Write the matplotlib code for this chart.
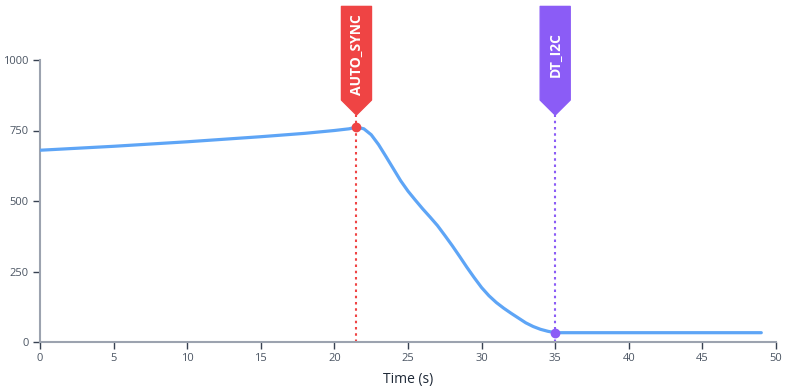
import numpy as np
import matplotlib
matplotlib.use('Agg')
import matplotlib.pyplot as plt
from matplotlib.patches import Polygon

plt.rcParams['font.family'] = ['Open Sans', 'DejaVu Sans']

# series
t = [0, 5, 10, 15, 18, 20, 21, 21.5, 22, 22.5, 23, 23.5, 24, 24.5, 25, 25.5, 26, 26.5,
     27, 27.5, 28, 28.5, 29, 29.5, 30, 30.5, 31, 31.5, 32, 32.5, 33, 33.5, 34, 34.5, 35,
     36, 38, 40, 42, 44, 46, 48, 49]
v = [680, 694, 710, 728, 740, 750, 756, 762, 756, 735, 700, 658, 615, 572, 535, 503, 472, 443,
     413, 378, 342, 304, 265, 228, 193, 164, 140, 120, 102, 85, 68, 55, 45, 38, 33,
     33, 33, 33, 33, 33, 33, 33, 33]

events = ['AUTO_SYNC', 'DT_I2C']
event_t = [21.5, 35]
event_v = [762, 33]
event_col = ['#ef4444', '#8b5cf6']

fig = plt.figure(figsize=(7.91, 3.89), dpi=100)
ax = fig.add_axes([40/791, 47/389, 736/791, 282/389])

ax.plot(t, v, color='#5ea5f6', lw=2.3, solid_capstyle='round', solid_joinstyle='round', zorder=3)

for name, x, y, c in zip(events, event_t, event_v, event_col):
    ax.plot([x, x], [0, 805], color=c, lw=1.5, ls=(0, (1.2, 1.8)), clip_on=False, zorder=2)
    ax.plot(x, y, 'o', color=c, ms=6, zorder=4)
    hw = 1.02
    flag = Polygon([[x - hw, 1190], [x + hw, 1190], [x + hw, 858], [x, 805], [x - hw, 858]],
                   closed=True, facecolor=c, edgecolor=c, lw=1, joinstyle='round',
                   clip_on=False, zorder=5)
    ax.add_patch(flag)
    ax.text(x, 1020, name, rotation=90, ha='center', va='center', color='white',
            fontsize=10, fontweight='bold', clip_on=False, zorder=6)

ax.set_xlim(0, 50)
ax.set_ylim(0, 1000)
ax.set_xticks(range(0, 51, 5))
ax.set_yticks([0, 250, 500, 750, 1000])
for s in ['top', 'right']:
    ax.spines[s].set_visible(False)
for s in ['left', 'bottom']:
    ax.spines[s].set_color('#9ca3af')
    ax.spines[s].set_linewidth(1.5)
ax.tick_params(axis='both', colors='#4b5563', labelsize=8, length=5, width=1, pad=3)
ax.tick_params(axis='both', color='#374151')
ax.set_xlabel('Time (s)', fontsize=10, color='#1f2937', labelpad=6)

fig.savefig('out.png', dpi=100)
